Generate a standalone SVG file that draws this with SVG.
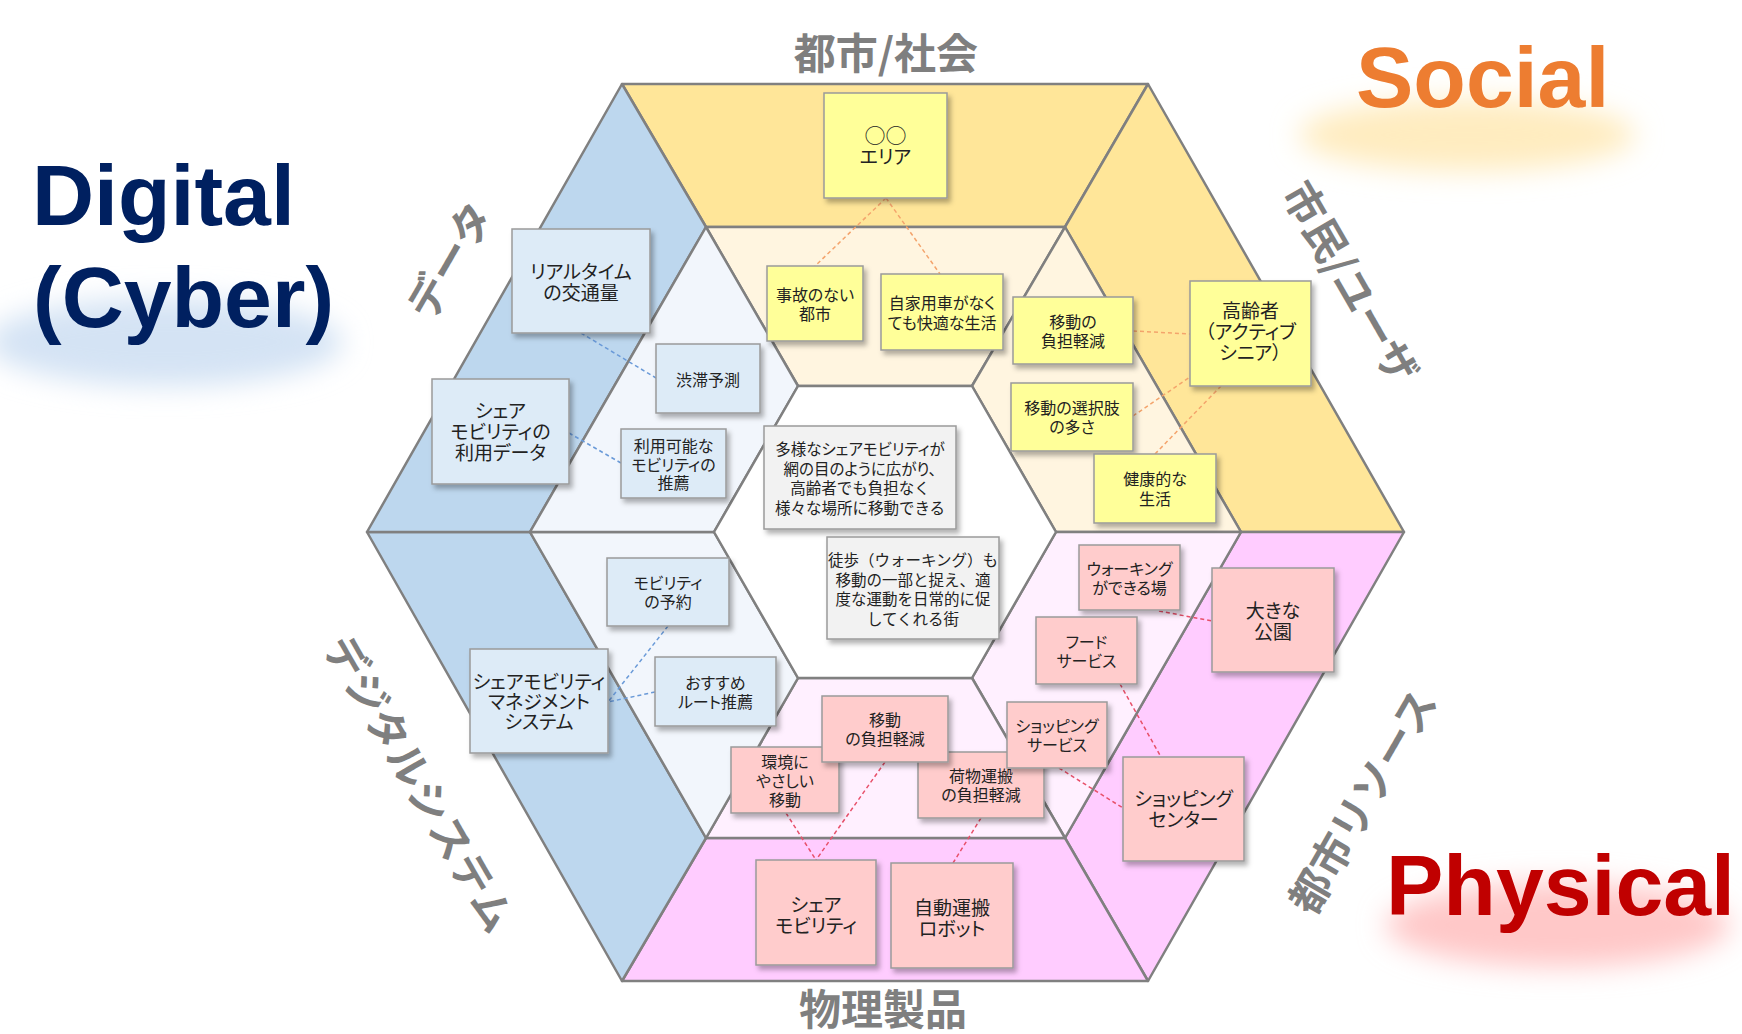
<svg xmlns="http://www.w3.org/2000/svg" width="1742" height="1034" viewBox="0 0 1742 1034">
<defs>
  <filter id="shadow" x="-10%" y="-10%" width="130%" height="140%">
    <feDropShadow dx="3" dy="4" stdDeviation="2.5" flood-color="#000" flood-opacity="0.3"/>
  </filter>
  <filter id="glow" x="-30%" y="-60%" width="160%" height="220%">
    <feGaussianBlur stdDeviation="14"/>
  </filter>
  <style>
    .zone { stroke: #808080; stroke-width: 2.5; stroke-linejoin: round; }
    .node rect { stroke: #9a9a9a; stroke-width: 1.5; filter: url(#shadow); }
    .y rect { fill: #FFFF99; }
    .b rect { fill: #DDEBF7; }
    .p rect { fill: #FFCCCC; }
    .g rect { fill: #F2F2F2; }
    .node text { font-family: "Noto Sans CJK JP", "Noto Sans", sans-serif; font-feature-settings: "palt" 1; fill: #222; text-anchor: middle; dominant-baseline: central; }
    .s text { font-size: 16px; }
    .l text { font-size: 19px; }
    .c text { font-size: 15.5px; }
    .node text.fw { font-feature-settings: normal; }
    .sec { font-family: "Noto Sans CJK JP", sans-serif; font-weight: 700; font-size: 42px; fill: #7F7F7F; text-anchor: middle; dominant-baseline: central; }
    .big { font-family: "Liberation Sans", Arial, sans-serif; font-weight: 700; font-size: 86px; }
    .conn line { stroke-width: 1.5; stroke-dasharray: 4 3; fill: none; }
    .co { stroke: #F4A46C; }
    .cb { stroke: #6A9AD8; }
    .cr { stroke: #E8506A; }
  </style>
</defs>

<rect x="0" y="0" width="1742" height="1034" fill="#ffffff"/>

<!-- glows -->
<g id="glows">
  <ellipse cx="165" cy="342" rx="178" ry="44" fill="#D4E3F4" filter="url(#glow)"/>
  <ellipse cx="1467" cy="135" rx="168" ry="36" fill="#FFECC0" filter="url(#glow)"/>
  <ellipse cx="1558" cy="925" rx="172" ry="42" fill="#FFC8C8" filter="url(#glow)"/>
</g>

<!-- hexagon background -->
<g id="hexagon">
  <polygon class="zone" fill="#FFE699" points="622,84 1148,84 1065,227 706,227"/>
  <polygon class="zone" fill="#FFE699" points="1148,84 1404,532 1241,532 1065,227"/>
  <polygon class="zone" fill="#FFCCFF" points="1404,532 1148,981 1065,838 1241,532"/>
  <polygon class="zone" fill="#FFCCFF" points="1148,981 622,981 706,838 1065,838"/>
  <polygon class="zone" fill="#BDD7EE" points="622,981 367,532 530,532 706,838"/>
  <polygon class="zone" fill="#BDD7EE" points="367,532 622,84 706,227 530,532"/>
  <polygon class="zone" fill="#FFF5E0" points="706,227 1065,227 972,386 798,386"/>
  <polygon class="zone" fill="#FFF5E0" points="1065,227 1241,532 1056,532 972,386"/>
  <polygon class="zone" fill="#FFF0FF" points="1241,532 1065,838 972,678 1056,532"/>
  <polygon class="zone" fill="#FFF0FF" points="1065,838 706,838 798,678 972,678"/>
  <polygon class="zone" fill="#F2F6FC" points="706,838 530,532 714,532 798,678"/>
  <polygon class="zone" fill="#F2F6FC" points="530,532 706,227 798,386 714,532"/>
  <polygon class="zone" fill="#FFFFFF" points="798,386 972,386 1056,532 972,678 798,678 714,532"/>
</g>

<!-- titles and section labels -->
<g id="labels">
  <text class="big" x="32" y="225" fill="#002060">Digital</text>
  <text class="big" x="33" y="327" fill="#002060">(Cyber)</text>
  <text class="big" x="1356" y="107" fill="#ED7D31">Social</text>
  <text class="big" x="1386" y="915" fill="#C00000">Physical</text>
  <text class="sec" x="886" y="50">都市/社会</text>
  <text class="sec" x="883" y="1006">物理製品</text>
  <text class="sec" transform="translate(447,259) rotate(-60)">データ</text>
  <text class="sec" transform="translate(1353,281) rotate(60)">市民/ユーザ</text>
  <text class="sec" transform="translate(422,782) rotate(60)">デジタルシステム</text>
  <text class="sec" transform="translate(1360,800) rotate(-60)">都市リソース</text>
</g>

<!-- connectors -->
<g id="connectors" class="conn">
  <line class="co" x1="886" y1="198" x2="815" y2="266"/>
  <line class="co" x1="886" y1="198" x2="940" y2="274"/>
  <line class="co" x1="1133" y1="331" x2="1190" y2="334"/>
  <line class="co" x1="1133" y1="416" x2="1190" y2="377"/>
  <line class="co" x1="1155" y1="454" x2="1221" y2="386"/>
  <line class="cb" x1="581" y1="333" x2="656" y2="378"/>
  <line class="cb" x1="569" y1="433" x2="621" y2="463"/>
  <line class="cb" x1="668" y1="626" x2="608" y2="702"/>
  <line class="cb" x1="655" y1="692" x2="608" y2="702"/>
  <line class="cr" x1="1159" y1="611" x2="1212" y2="621"/>
  <line class="cr" x1="1120" y1="684" x2="1161" y2="757"/>
  <line class="cr" x1="1059" y1="768" x2="1123" y2="808"/>
  <line class="cr" x1="786" y1="813" x2="816" y2="860"/>
  <line class="cr" x1="885" y1="762" x2="816" y2="860"/>
  <line class="cr" x1="981" y1="818" x2="953" y2="863"/>
</g>

<!-- yellow nodes -->
<g id="n-area" class="node y l">
  <rect x="824" y="93" width="123" height="105"/>
  <text x="885.5" y="134" style="font-size:21px">○○</text>
  <text x="885.5" y="155">エリア</text>
</g>
<g id="n-safe-city" class="node y s">
  <rect x="767" y="266" width="96" height="75"/>
  <text x="815" y="294">事故のない</text>
  <text x="815" y="313">都市</text>
</g>
<g id="n-no-car" class="node y s">
  <rect x="881" y="274" width="122" height="76"/>
  <text x="942" y="302">自家用車がなく</text>
  <text x="942" y="322">ても快適な生活</text>
</g>
<g id="n-burden-y" class="node y s">
  <rect x="1013" y="297" width="120" height="67"/>
  <text x="1073" y="321">移動の</text>
  <text x="1073" y="340">負担軽減</text>
</g>
<g id="n-senior" class="node y l">
  <rect x="1190" y="281" width="121" height="105"/>
  <text x="1250.5" y="309">高齢者</text>
  <text x="1250.5" y="330">（アクティブ</text>
  <text x="1250.5" y="351">シニア）</text>
</g>
<g id="n-choices" class="node y s">
  <rect x="1011" y="383" width="122" height="68"/>
  <text x="1072" y="407">移動の選択肢</text>
  <text x="1072" y="426">の多さ</text>
</g>
<g id="n-healthy" class="node y s">
  <rect x="1094" y="454" width="122" height="69"/>
  <text x="1155" y="478">健康的な</text>
  <text x="1155" y="498">生活</text>
</g>

<!-- blue nodes -->
<g id="n-traffic" class="node b l">
  <rect x="512" y="229" width="138" height="104"/>
  <text x="581" y="270">リアルタイム</text>
  <text x="581" y="291">の交通量</text>
</g>
<g id="n-congestion" class="node b s">
  <rect x="656" y="344" width="104" height="69"/>
  <text x="708" y="379">渋滞予測</text>
</g>
<g id="n-usage-data" class="node b l">
  <rect x="432" y="379" width="137" height="105"/>
  <text x="500.5" y="409">シェア</text>
  <text x="500.5" y="430">モビリティの</text>
  <text x="500.5" y="451">利用データ</text>
</g>
<g id="n-recommend" class="node b s">
  <rect x="621" y="429" width="105" height="69"/>
  <text x="673.5" y="445">利用可能な</text>
  <text x="673.5" y="464">モビリティの</text>
  <text x="673.5" y="482">推薦</text>
</g>
<g id="n-reserve" class="node b s">
  <rect x="607" y="558" width="122" height="68"/>
  <text x="668" y="582">モビリティ</text>
  <text x="668" y="601">の予約</text>
</g>
<g id="n-mgmt" class="node b l">
  <rect x="470" y="649" width="138" height="104"/>
  <text x="539" y="680">シェアモビリティ</text>
  <text x="539" y="700">マネジメント</text>
  <text x="539" y="720">システム</text>
</g>
<g id="n-route" class="node b s">
  <rect x="655" y="657" width="121" height="69"/>
  <text x="715.5" y="682">おすすめ</text>
  <text x="715.5" y="701">ルート推薦</text>
</g>

<!-- center nodes -->
<g id="n-vision1" class="node g c">
  <rect x="764" y="426" width="192" height="103"/>
  <text x="860" y="448">多様なシェアモビリティが</text>
  <text x="860" y="467.5">網の目のように広がり、</text>
  <text class="fw" x="860" y="487">高齢者でも負担なく</text>
  <text class="fw" x="860" y="506.5">様々な場所に移動できる</text>
</g>
<g id="n-vision2" class="node g c">
  <rect x="827" y="537" width="172" height="102"/>
  <text class="fw" x="913" y="559">徒歩（ウォーキング）も</text>
  <text class="fw" x="913" y="578.5">移動の一部と捉え、適</text>
  <text class="fw" x="913" y="598">度な運動を日常的に促</text>
  <text class="fw" x="913" y="617.5">してくれる街</text>
</g>

<!-- pink nodes -->
<g id="n-walk-place" class="node p s">
  <rect x="1079" y="545" width="101" height="65"/>
  <text x="1129.5" y="568">ウォーキング</text>
  <text x="1129.5" y="587">ができる場</text>
</g>
<g id="n-park" class="node p l">
  <rect x="1212" y="568" width="122" height="104"/>
  <text x="1273" y="609">大きな</text>
  <text x="1273" y="630">公園</text>
</g>
<g id="n-food" class="node p s">
  <rect x="1036" y="617" width="101" height="67"/>
  <text x="1086.5" y="641">フード</text>
  <text x="1086.5" y="660">サービス</text>
</g>
<g id="n-env" class="node p s">
  <rect x="731" y="747" width="108" height="66"/>
  <text x="785" y="761">環境に</text>
  <text x="785" y="780">やさしい</text>
  <text x="785" y="799">移動</text>
</g>
<g id="n-luggage" class="node p s">
  <rect x="918" y="752" width="126" height="66"/>
  <text x="981" y="775">荷物運搬</text>
  <text x="981" y="794">の負担軽減</text>
</g>
<g id="n-burden-p" class="node p s">
  <rect x="822" y="696" width="126" height="66"/>
  <text x="885" y="719">移動</text>
  <text x="885" y="738">の負担軽減</text>
</g>
<g id="n-shop-service" class="node p s">
  <rect x="1007" y="702" width="100" height="66"/>
  <text x="1057" y="725">ショッピング</text>
  <text x="1057" y="744">サービス</text>
</g>
<g id="n-shop-center" class="node p l">
  <rect x="1123" y="757" width="121" height="104"/>
  <text x="1183.5" y="797">ショッピング</text>
  <text x="1183.5" y="818">センター</text>
</g>
<g id="n-share-mobility" class="node p l">
  <rect x="756" y="860" width="120" height="105"/>
  <text x="816" y="903">シェア</text>
  <text x="816" y="924">モビリティ</text>
</g>
<g id="n-robot" class="node p l">
  <rect x="891" y="863" width="122" height="105"/>
  <text x="952" y="906">自動運搬</text>
  <text x="952" y="927">ロボット</text>
</g>
</svg>
